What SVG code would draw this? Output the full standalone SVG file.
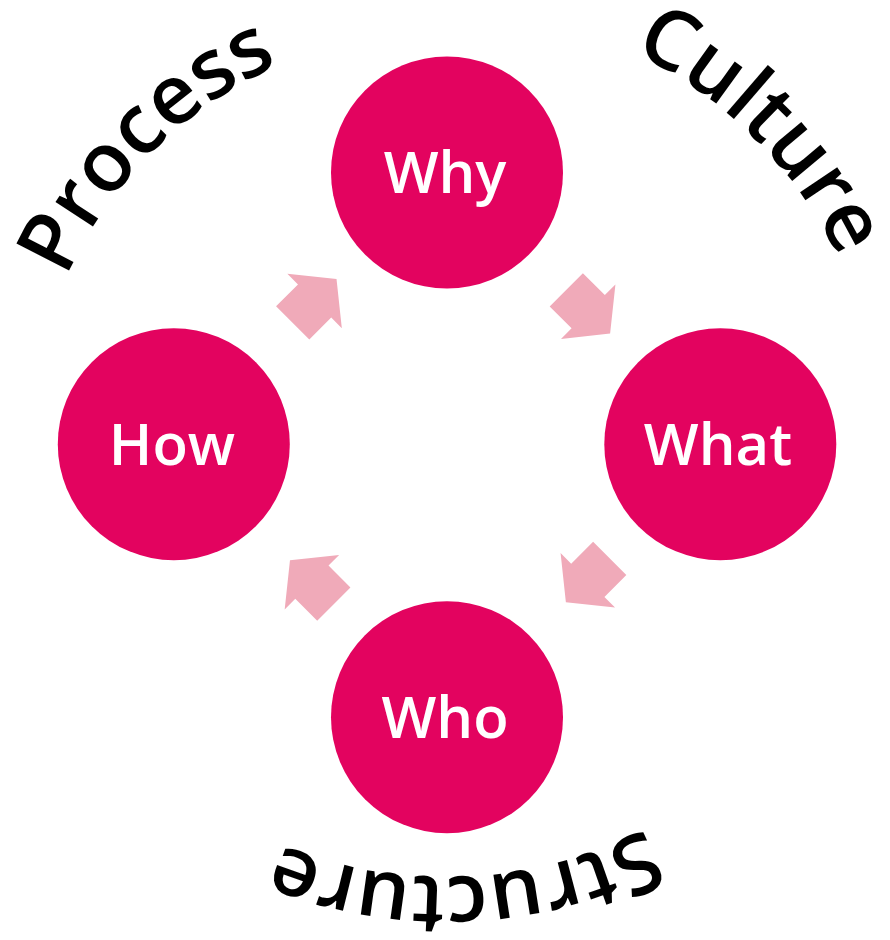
<svg xmlns="http://www.w3.org/2000/svg" xmlns:xlink="http://www.w3.org/1999/xlink" width="890" height="940" viewBox="0 0 890 940">
<style>
.node{fill:#e3035f;}
.lbl{fill:#ffffff;font-family:"Open Sans","Noto Sans",sans-serif;font-weight:600;font-size:58px;text-anchor:middle;}
.arrow{fill:#f0aab9;}
.curve{fill:#000000;font-family:"Open Sans","Noto Sans",sans-serif;font-weight:600;font-size:83px;}
</style>
<defs>
<polygon id="arr" points="-31,-23.5 0,-23.5 0,-38.5 31,0 0,38.5 0,23.5 -31,23.5"/>
<path id="pProcess" d="M32.6,408.8 A415,415 0 0 1 409.8,31.6"/>
<path id="pCulture" d="M483.9,11.7 A435,435 0 0 1 879.3,407.1"/>
<path id="pStructure" d="M737.9,763.5 A432,432 0 0 1 183,787.7"/>
</defs>
<g id="connectors">
<use href="#arr" class="arrow" transform="translate(314.6,301) rotate(-45)"/>
<use href="#arr" class="arrow" transform="translate(588.2,311.7) rotate(45)"/>
<use href="#arr" class="arrow" transform="translate(587.8,580.3) rotate(135)"/>
<use href="#arr" class="arrow" transform="translate(311.9,582.2) rotate(-135)"/>
</g>
<g id="node-why">
<circle class="node" cx="447" cy="172.5" r="116"/>
<text class="lbl" x="445" y="193">Why</text>
</g>
<g id="node-what">
<circle class="node" cx="720.3" cy="444.2" r="116"/>
<text class="lbl" x="718" y="465">What</text>
</g>
<g id="node-who">
<circle class="node" cx="447" cy="717.2" r="116"/>
<text class="lbl" x="445" y="738">Who</text>
</g>
<g id="node-how">
<circle class="node" cx="173.8" cy="444.2" r="116"/>
<text class="lbl" x="172" y="465">How</text>
</g>
<g id="labels">
<text class="curve"><textPath href="#pProcess" startOffset="50%" text-anchor="middle">Process</textPath></text>
<text class="curve"><textPath href="#pCulture" startOffset="50%" text-anchor="middle">Culture</textPath></text>
<text class="curve"><textPath href="#pStructure" startOffset="50%" text-anchor="middle">Structure</textPath></text>
</g>
</svg>
